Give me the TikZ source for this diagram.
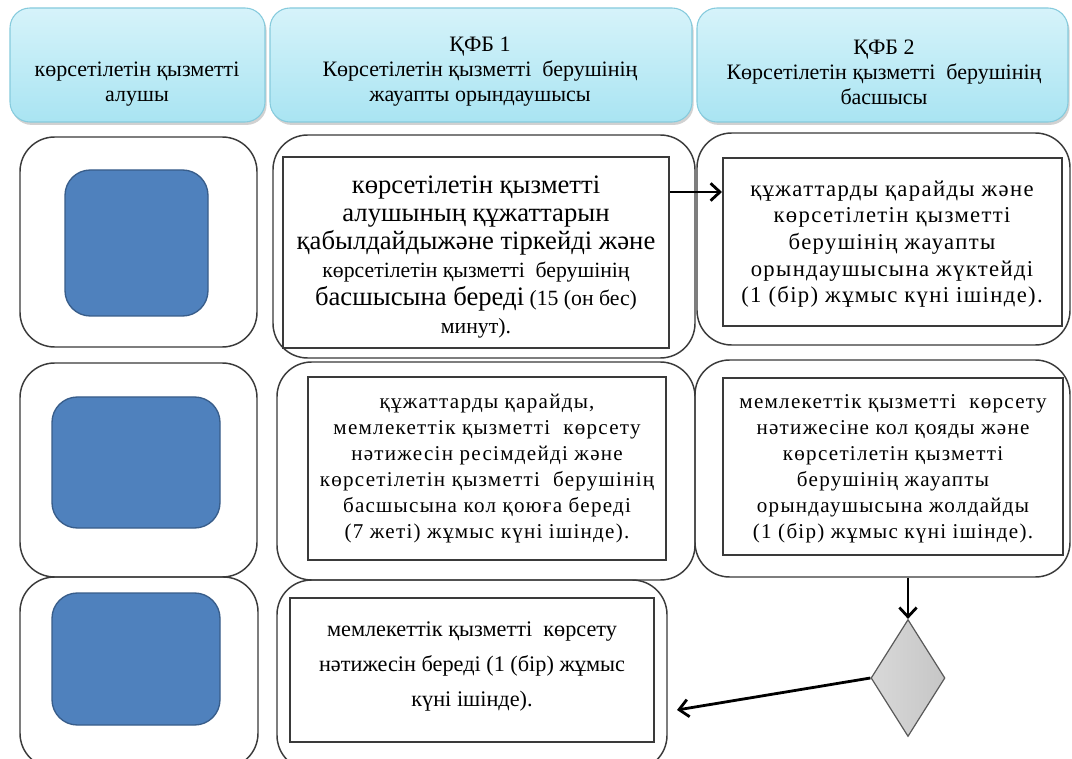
\documentclass[tikz,border=0pt]{standalone}
\usepackage{fontspec}
\setmainfont{Liberation Serif}
\newfontfamily\tnr{Liberation Serif}
\newfontfamily\lsA[LetterSpace=6]{Liberation Serif}
\usetikzlibrary{arrows.meta,fit,shapes.geometric,shadows}
\definecolor{hdrtop}{HTML}{D6F3FA}
\definecolor{hdrbot}{HTML}{A9E4F2}
\definecolor{hdrline}{HTML}{86CBDD}
\definecolor{bluefill}{HTML}{4F81BD}
\definecolor{blueline}{HTML}{385D8A}
\definecolor{boxline}{HTML}{3A3A3A}
\newcommand{\bgf}{\tnr\fontsize{20pt}{21pt}\selectfont}
\begin{document}
\begin{tikzpicture}[x=0.75pt,y=-0.75pt,
  hdr/.style={draw=hdrline,line width=0.8pt,rounded corners=15pt,top color=hdrtop,bottom color=hdrbot,inner sep=0pt,
    drop shadow={shadow xshift=1.2pt,shadow yshift=-2.2pt,fill=black,opacity=0.18}},
  hdrtext/.style={align=center,font=\tnr\fontsize{16.5pt}{18.75pt}\selectfont,inner sep=0pt},
  outerbox/.style={draw=boxline,line width=1.1pt,rounded corners=26pt,inner sep=0pt},
  bluebox/.style={draw=blueline,line width=1pt,fill=bluefill,rounded corners=19pt,inner sep=0pt},
  innerbox/.style={draw=boxline,line width=1.5pt,inner sep=0pt,fill=white},
  txtA/.style={align=center,inner sep=0pt,font=\tnr\fontsize{16.3pt}{21pt}\selectfont},
  txtB/.style={align=center,inner sep=0pt,font=\lsA\fontsize{17pt}{20pt}\selectfont},
  txtBs/.style={align=center,inner sep=0pt,font=\lsA\fontsize{15.8pt}{19.5pt}\selectfont},
  txtC/.style={align=center,inner sep=0pt,font=\tnr\fontsize{16.7pt}{26.25pt}\selectfont},
  arr/.style={line width=2.1pt,-{Straight Barb[length=7pt,width=13pt,line width=2.1pt]}},
  dia/.style={diamond,draw=gray!70!black,line width=0.9pt,left color=gray!30,middle color=gray!6,right color=gray!45,
    inner sep=0pt,minimum width=74*0.75pt,minimum height=117*0.75pt}
]
\useasboundingbox (0,0) rectangle (1072,759);
\fill[white] (0,0) rectangle (1072,759);

% headers
\node[hdr,fit={(10,8)(265,122)}] (h1) {};
\node[hdr,fit={(270,8)(692,122)}] (h2) {};
\node[hdr,fit={(697,8)(1068,122)}] (h3) {};
\node[hdrtext] (h1t) at (137,84) {көрсетілетін қызметті\\алушы};
\node[hdrtext] (h2t) at (480,72) {ҚФБ 1\\Көрсетілетін қызметті\ \ берушінің\\жауапты орындаушысы};
\node[hdrtext] (h3t) at (884,72) {ҚФБ 2\\Көрсетілетін қызметті\ \ берушінің\\басшысы};

% row 1
\node[outerbox,fit={(20,137)(257,347)}] (o11) {};
\node[bluebox,fit={(65,170)(208,316)}] (b1) {};
\node[outerbox,fit={(273,135)(695,358)}] (o12) {};
\node[innerbox,fit={(283,157)(669,348)}] (t12) {};
\node[txtA] (t12t) at (476,257) {{\bgf көрсетілетін қызметті}\\{\bgf алушының құжаттарын}\\{\bgf қабылдайдыжәне тіркейді және}\\көрсетілетін қызметті\ \ берушінің\\{\bgf басшысына береді} (15 (он бес)\\минут).};
\node[outerbox,fit={(697,133)(1070,345)}] (o13) {};
\node[innerbox,fit={(723,158)(1062,326)}] (t13) {};
\node[txtB] (t13t) at (892,244) {құжаттарды қарайды және\\көрсетілетін қызметті\\берушінің жауапты\\орындаушысына жүктейді\\(1 (бір) жұмыс күні ішінде).};

% row 2
\node[outerbox,fit={(20,363)(257,577)}] (o21) {};
\node[bluebox,fit={(52,397)(220,528)}] (b2) {};
\node[outerbox,fit={(277,362)(695,580)}] (o22) {};
\node[innerbox,fit={(308,377)(666,560)}] (t22) {};
\node[txtBs] (t22t) at (487,469) {құжаттарды қарайды,\\мемлекеттік қызметті\ \ көрсету\\нәтижесін ресімдейді және\\көрсетілетін қызметті\ \ берушінің\\басшысына кол қоюға береді\\(7 жеті) жұмыс күні ішінде).};
\node[outerbox,fit={(695,360)(1070,577)}] (o23) {};
\node[innerbox,fit={(723,378)(1063,555)}] (t23) {};
\node[txtBs] (t23t) at (893,469) {мемлекеттік қызметті\ \ көрсету\\нәтижесіне кол қояды және\\көрсетілетін қызметті\\берушінің жауапты\\орындаушысына жолдайды\\(1 (бір) жұмыс күні ішінде).};

% row 3
\node[outerbox,fit={(20,577)(258,768)}] (o31) {};
\node[bluebox,fit={(52,593)(220,725)}] (b3) {};
\node[outerbox,fit={(277,580)(667,770)}] (o32) {};
\node[innerbox,fit={(290,598)(654,742)}] (t32) {};
\node[txtC] (t32t) at (472,666) {мемлекеттік қызметті\ \ көрсету\\нәтижесін береді (1 (бір) жұмыс\\күні ішінде).};
\node[dia] (d) at (908,678) {};

% connectors
\draw[arr] (t12.east |- 0,192) -- (t13.west |- 0,192);
\draw[arr] (o23.south -| d.north) -- (d.north);
\coordinate (e3) at (677,710);
\draw[arr] (d.west) -- (e3);
\end{tikzpicture}
\end{document}
